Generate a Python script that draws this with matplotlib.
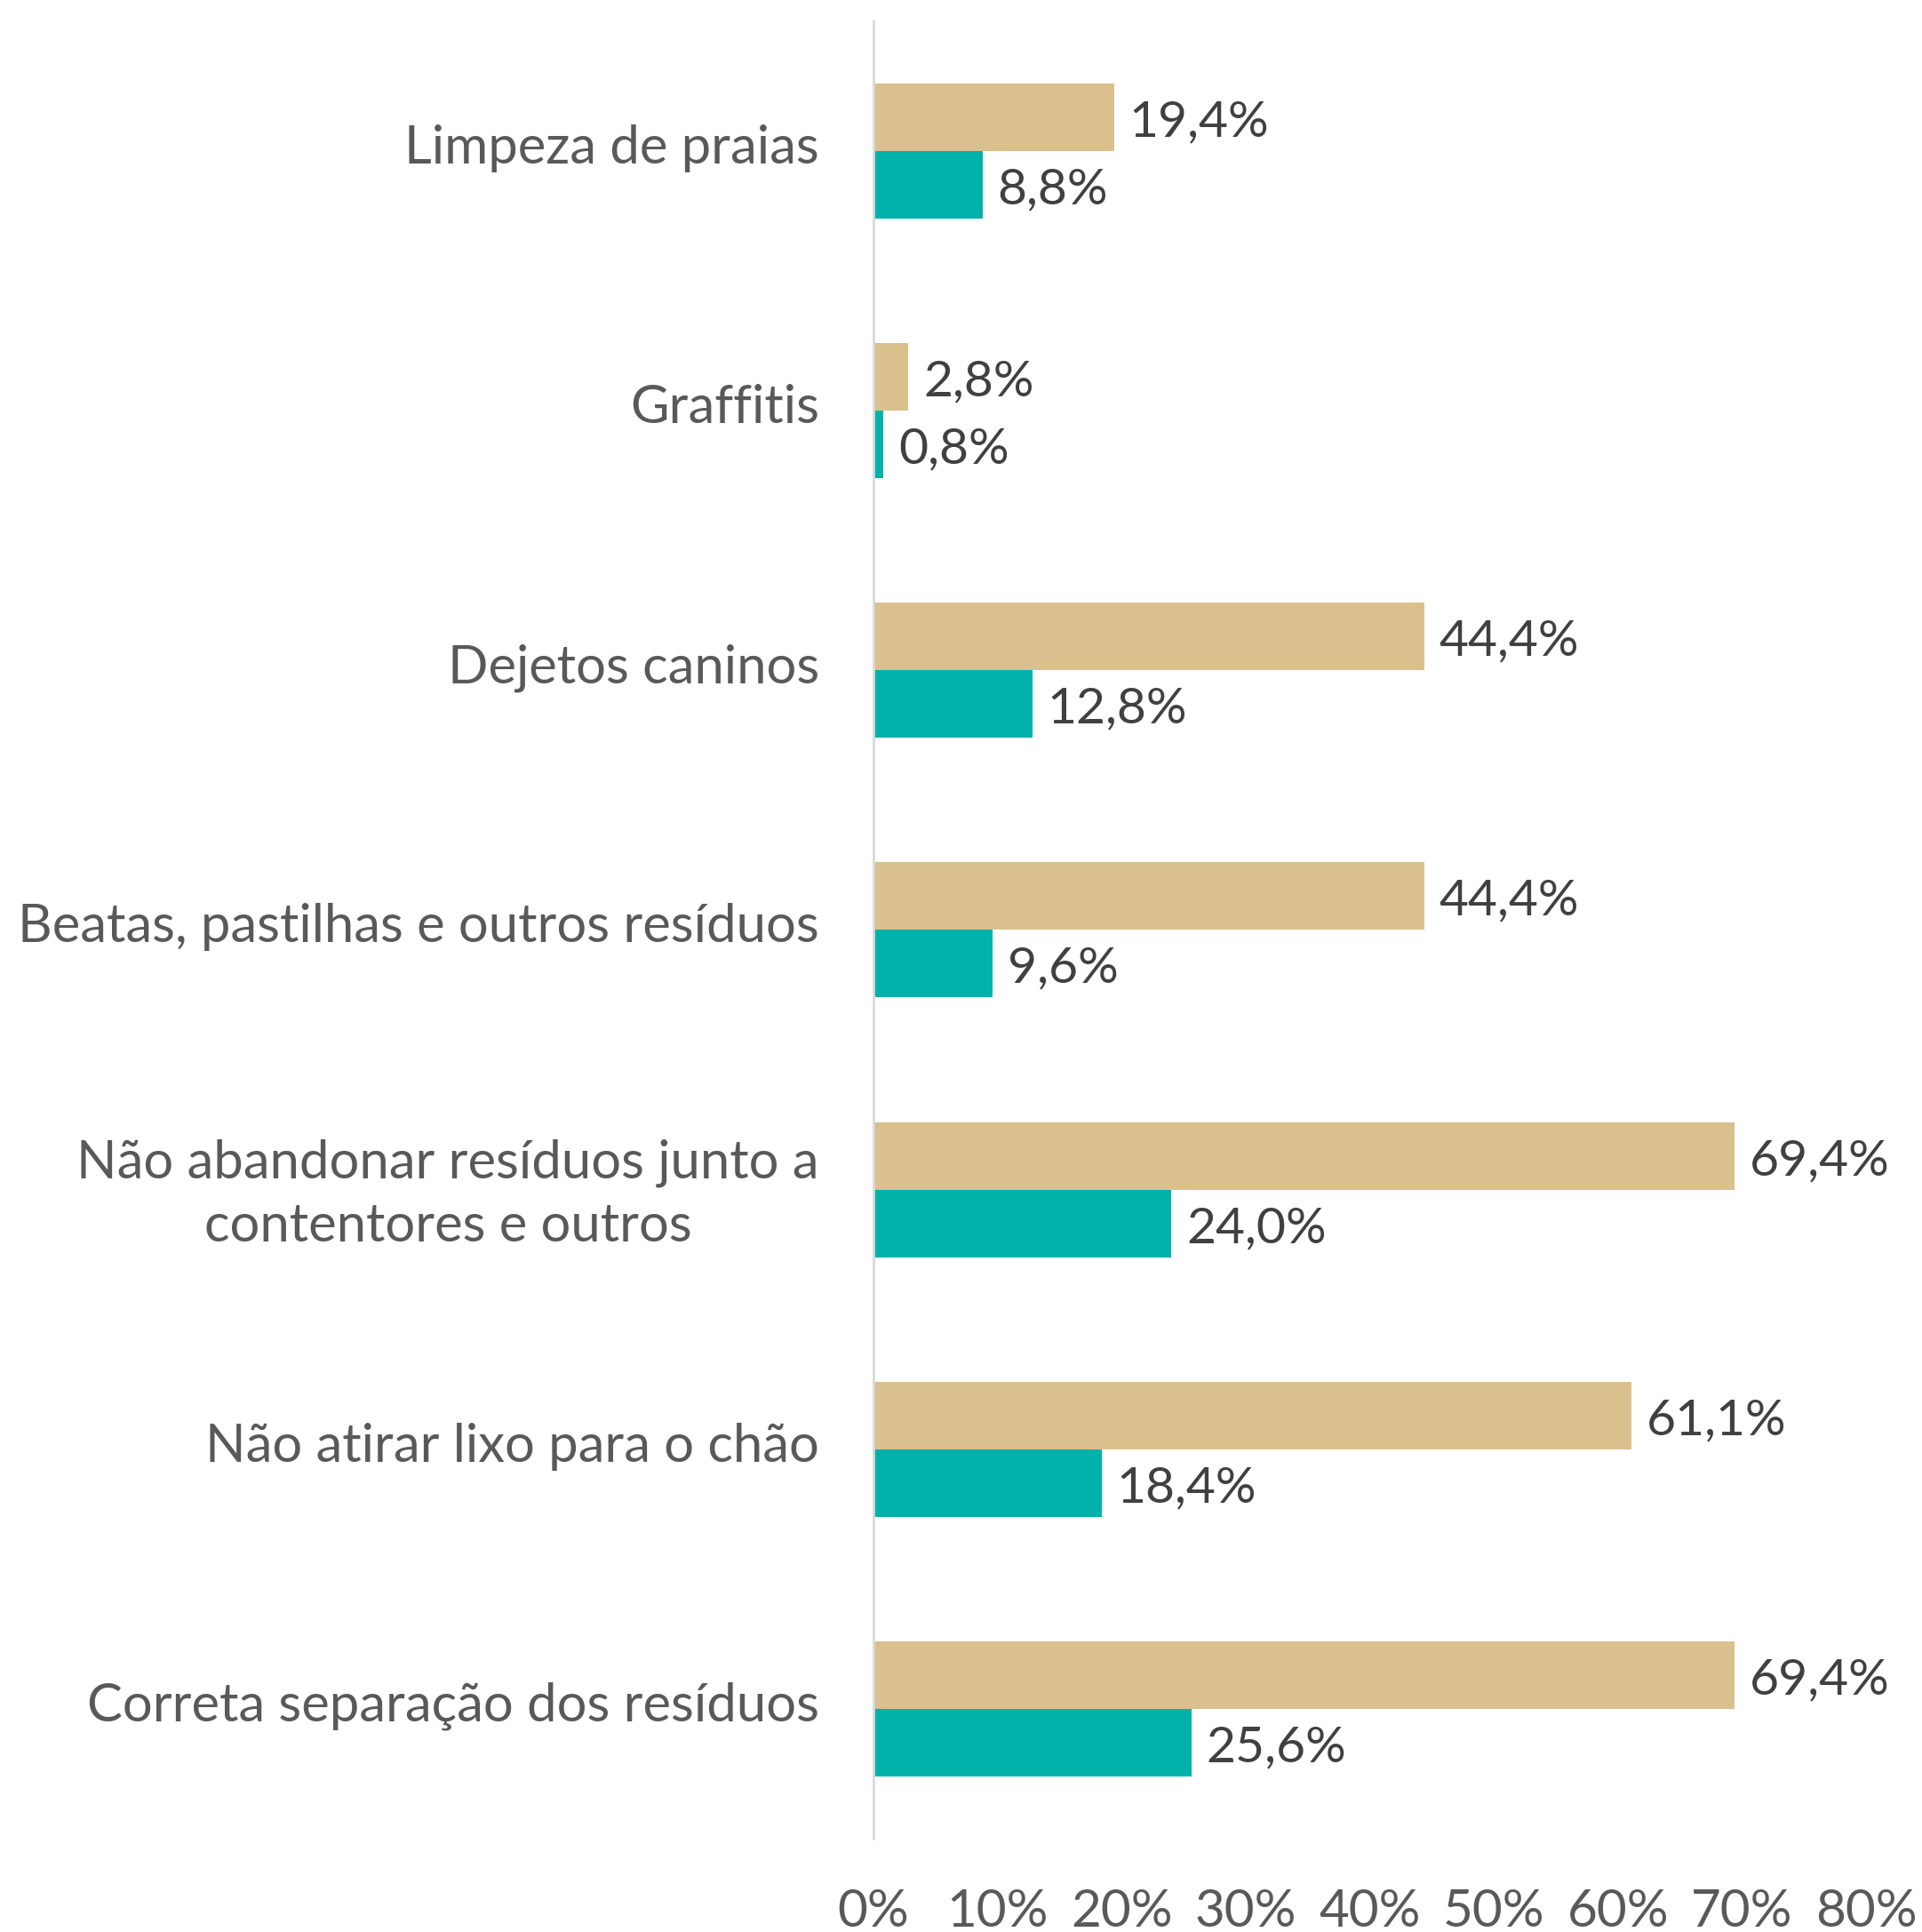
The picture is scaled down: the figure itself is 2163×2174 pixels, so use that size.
import matplotlib

matplotlib.use("Agg")
import matplotlib.pyplot as plt
import matplotlib.transforms as mtransforms
import numpy as np
from matplotlib.ticker import FuncFormatter

plt.rcParams["font.family"] = ["Lato", "DejaVu Sans"]

CATEGORIES = [
    "Limpeza de praias",
    "Graffitis",
    "Dejetos caninos",
    "Beatas, pastilhas e outros resíduos",
    "Não abandonar resíduos junto a\ncontentores e outros",
    "Não atirar lixo para o chão",
    "Correta separação dos resíduos",
]
SERIES_A = [19.4, 2.8, 44.4, 44.4, 69.4, 61.1, 69.4]
SERIES_B = [8.8, 0.8, 12.8, 9.6, 24.0, 18.4, 25.6]
X_TICKS = [0, 10, 20, 30, 40, 50, 60, 70, 80]

TAN = "#D9C08D"
TEAL = "#00B2A9"


def pct(v: float) -> str:
    return f"{v:.1f}".replace(".", ",") + "%"


def main() -> None:
    fig = plt.figure(figsize=(21.63, 21.74), dpi=100)
    ax = fig.add_axes([0.4545, 0.0483, 0.971 - 0.4545, 0.989 - 0.0483])

    y = np.arange(len(CATEGORIES))
    h = 0.26
    ax.barh(y - h / 2, SERIES_A, height=h, color=TAN)
    ax.barh(y + h / 2, SERIES_B, height=h, color=TEAL)

    for yi, a, b in zip(y, SERIES_A, SERIES_B):
        ax.text(a + 1.2, yi - h / 2 + 0.02, pct(a), va="center", ha="left",
                fontsize=41, color="#404040")
        ax.text(b + 1.2, yi + h / 2 + 0.02, pct(b), va="center", ha="left",
                fontsize=41, color="#404040")

    ax.set_ylim(len(CATEGORIES) - 0.5, -0.5)
    ax.set_xlim(0, 80)
    ax.set_xticks(X_TICKS)
    ax.xaxis.set_major_formatter(FuncFormatter(lambda v, _: f"{v:.0f}%"))
    ax.set_yticks(y)
    ax.set_yticklabels(CATEGORIES, multialignment="center", linespacing=1.4)

    ax.tick_params(axis="x", length=0, pad=40, labelsize=42, labelcolor="#595959")
    ax.tick_params(axis="y", length=0, pad=44, labelsize=43, labelcolor="#595959")

    # nudge category labels up a little to sit on the bar-pair centre
    shift = mtransforms.ScaledTranslation(0, 0.08, fig.dpi_scale_trans)
    for label in ax.get_yticklabels():
        label.set_transform(label.get_transform() + shift)

    for side in ("top", "right", "bottom"):
        ax.spines[side].set_visible(False)
    ax.spines["left"].set_color("#D9D9D9")
    ax.spines["left"].set_linewidth(2)

    fig.savefig("out.png", dpi=100)


if __name__ == "__main__":
    main()
